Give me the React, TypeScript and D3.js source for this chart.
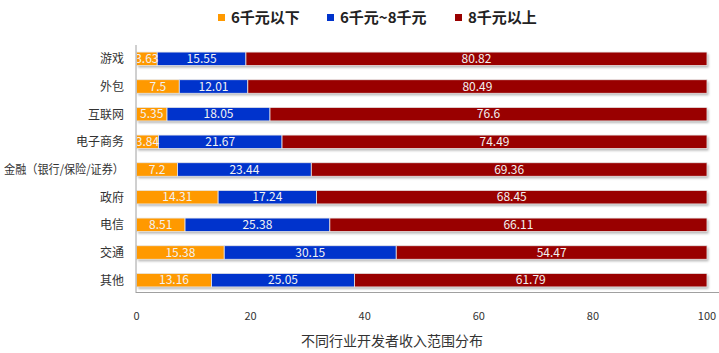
import React from "react";
import * as d3 from "d3";

const categories = ["游戏", "外包", "互联网", "电子商务", "金融（银行/保险/证券）", "政府", "电信", "交通", "其他"];
const seriesNames = ["6千元以下", "6千元~8千元", "8千元以上"];
const low = [3.63, 7.5, 5.35, 3.84, 7.2, 14.31, 8.51, 15.38, 13.16];
const mid = [15.55, 12.01, 18.05, 21.67, 23.44, 17.24, 25.38, 30.15, 25.05];
const high = [80.82, 80.49, 76.6, 74.49, 69.36, 68.45, 66.11, 54.47, 61.79];
const xTicks = [0, 20, 40, 60, 80, 100];
const colors = ["#FF9900", "#0033CC", "#990000"];
const axisTitle = "不同行业开发者收入范围分布";

const W = 719, H = 353;
const FONT = "'Noto Sans CJK SC', 'Noto Sans', sans-serif";

export default function App() {
  const x = d3.scaleLinear().domain([0, 100]).range([136.5, 707]);
  const y = d3.scaleBand<string>().domain(categories).range([45, 294]).paddingInner(0.51).paddingOuter(0.255);
  const data = categories.map((c, i) => ({ cat: c, low: low[i], mid: mid[i], high: high[i] }));
  const stacked = d3.stack<any>().keys(["low", "mid", "high"])(data);
  const bh = y.bandwidth();

  const legendX = [218, 327, 455];

  return (
    <svg width={W} height={H} style={{ position: "absolute", left: 0, top: 0 }} fontFamily={FONT}>
      <defs>
        <clipPath id="plotclip">
          <rect x={x(0)} y={40} width={x(100) - x(0) + 2} height={260} />
        </clipPath>
        <filter id="blur" x="-5%" y="-50%" width="110%" height="200%">
          <feGaussianBlur stdDeviation="0.8" />
        </filter>
      </defs>
      <rect width={W} height={H} fill="#fff" />
      {/* legend */}
      {seriesNames.map((n, i) => (
        <g key={n}>
          <rect x={legendX[i]} y={14} width={7} height={7} fill={colors[i]} />
          <text x={legendX[i] + 13} y={23} fontSize={15} fontWeight="bold" fill="#222">{n}</text>
        </g>
      ))}
      {/* shadows */}
      {data.map((d) => (
        <rect key={"s" + d.cat} x={x(0) + 1.5} y={(y(d.cat) as number) + 2} width={x(d.low + d.mid + d.high) - x(0)} height={bh}
          fill="#b8b8b8" filter="url(#blur)" />
      ))}
      {/* bars */}
      {stacked.map((s, si) => (
        <g key={si}>
          {s.map((seg, j) => (
            <rect key={j} x={x(seg[0])} y={y(categories[j])} width={x(seg[1]) - x(seg[0])} height={bh}
              fill={colors[si]} stroke="#e8e8e8" strokeWidth={0.8} />
          ))}
        </g>
      ))}
      {/* labels */}
      <g clipPath="url(#plotclip)">
        {stacked.map((s, si) => s.map((seg, j) => (
          <text key={si + "-" + j} x={(x(seg[0]) + x(seg[1])) / 2} y={(y(categories[j]) as number) + bh / 2 + 4.2}
            textAnchor="middle" fontSize={12} fill="#f2f2f2">{String([low, mid, high][si][j])}</text>
        )))}
      </g>
      {/* axes frame */}
      <line x1={x(0) - 0.5} x2={x(0) - 0.5} y1={45} y2={293} stroke="#a0a0a0" strokeWidth={1} />
      <line x1={x(0) - 0.5} x2={W} y1={292.5} y2={292.5} stroke="#a0a0a0" strokeWidth={1} />
      {/* y labels */}
      {categories.map((c) => (
        <text key={c} x={124} y={(y(c) as number) + bh / 2 + 4.5} textAnchor="end" fontSize={12} fill="#333"
          {...(c.length > 8 ? { textLength: 120, lengthAdjust: "spacingAndGlyphs" } : {})}>{c}</text>
      ))}
      {/* x ticks */}
      {xTicks.map((t) => (
        <text key={t} x={x(t)} y={320} textAnchor="middle" fontSize={11} fill="#333">{t}</text>
      ))}
      <text x={392} y={346} textAnchor="middle" fontSize={14} fill="#333">{axisTitle}</text>
    </svg>
  );
}
